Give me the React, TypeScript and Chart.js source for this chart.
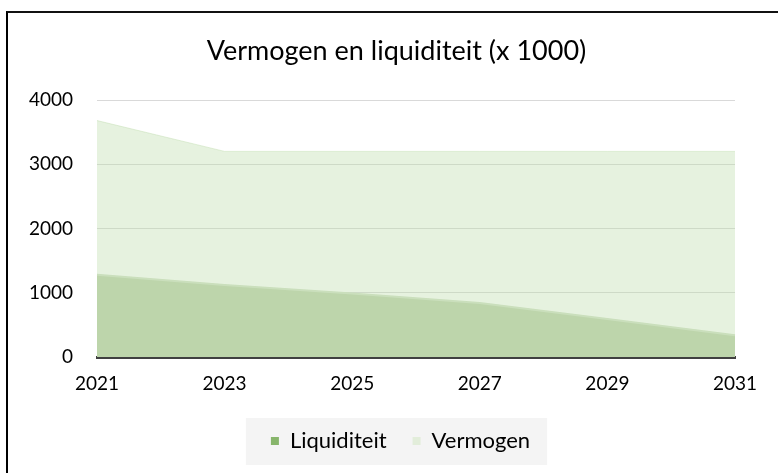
import React, { useEffect, useRef } from "react";
import { Chart, registerables } from "chart.js";

Chart.register(...registerables);

const years = ["2021", "2023", "2025", "2027", "2029", "2031"];
const liquiditeit = [1280, 1120, 990, 840, 590, 340];
const vermogen = [3680, 3200, 3200, 3200, 3200, 3200];
const seriesNames = ["Liquiditeit", "Vermogen"];
const legendColors = ["#87b56b", "#e2edda"];
const titleText = "Vermogen en liquiditeit (x 1000)";
const yMin = 0;
const yMax = 4000;
const yStep = 1000;

const FONT = "Lato, 'Open Sans', sans-serif";

export default function App() {
  const ref = useRef<HTMLCanvasElement | null>(null);

  useEffect(() => {
    if (!ref.current) return;

    const shiftBlocks = {
      id: "shiftBlocks",
      afterLayout(chart: any) {
        const t = chart.titleBlock;
        if (t) {
          t.left += 24;
          t.right += 24;
        }
        const l = chart.legend;
        if (l) {
          l.left += 28;
          l.right += 28;
        }
      },
    };

    const legendBg = {
      id: "legendBg",
      beforeDraw(chart: any) {
        const lg = chart.legend;
        const hb = lg && lg.legendHitBoxes;
        if (!hb || !hb.length) return;
        let minX = Infinity, maxX = -Infinity, minY = Infinity, maxY = -Infinity;
        hb.forEach((h: any) => {
          minX = Math.min(minX, h.left);
          maxX = Math.max(maxX, h.left + h.width);
          minY = Math.min(minY, h.top);
          maxY = Math.max(maxY, h.top + h.height);
        });
        const ctx = chart.ctx;
        const cy = (minY + maxY) / 2;
        ctx.save();
        ctx.fillStyle = "#f4f4f4";
        ctx.fillRect(minX - 25, cy - 23, (maxX - minX) + 42, 47);
        ctx.restore();
      },
    };

    const chart = new Chart(ref.current, {
      type: "line",
      data: {
        labels: years,
        datasets: [
          {
            label: seriesNames[0],
            data: liquiditeit,
            fill: "origin",
            backgroundColor: "#bdd5ab",
            borderColor: "#cadfbc",
            borderWidth: 2,
            pointRadius: 0,
            tension: 0,
            order: 0,
          },
          {
            label: seriesNames[1],
            data: vermogen,
            fill: "origin",
            backgroundColor: "rgba(190,220,172,0.38)",
            borderColor: "rgba(190,220,172,0.45)",
            borderWidth: 1,
            pointRadius: 0,
            tension: 0,
            order: 1,
          },
        ],
      },
      options: {
        responsive: false,
        animation: false,
        events: [],
        layout: { padding: { left: 10, right: 43, top: 0, bottom: 11 } },
        plugins: {
          tooltip: { enabled: false },
          title: {
            display: true,
            text: titleText,
            color: "#000",
            font: { family: FONT, size: 27, weight: "normal" },
            padding: { top: 35, bottom: 32.6 },
          },
          legend: {
            position: "bottom",
            labels: {
              color: "#000",
              font: { family: FONT, size: 22 },
              boxWidth: 8,
              boxHeight: 8,
              padding: 26,
              generateLabels: (chart: any) =>
                chart.data.datasets.map((ds: any, i: number) => ({
                  text: ds.label,
                  fillStyle: legendColors[i],
                  strokeStyle: legendColors[i],
                  lineWidth: 0,
                  hidden: false,
                  datasetIndex: i,
                  fontColor: "#000",
                })),
            },
          },
        },
        scales: {
          x: {
            type: "category",
            offset: false,
            afterFit: (s: any) => {
              s.height = 47;
            },
            grid: { display: false, drawTicks: false },
            border: { display: true, color: "#404040", width: 3 },
            ticks: {
              color: "#000",
              font: { family: FONT, size: 19 },
              padding: 15,
              maxRotation: 0,
              autoSkip: false,
            },
          },
          y: {
            min: yMin,
            max: yMax,
            afterFit: (s: any) => {
              s.width = 87;
            },
            grid: { color: "#d9d9d9", lineWidth: 1, drawTicks: false },
            border: { display: false },
            ticks: {
              stepSize: yStep,
              color: "#000",
              font: { family: FONT, size: 19 },
              padding: 24,
              callback: (v: any) => String(v),
            },
          },
        },
      },
      plugins: [shiftBlocks, legendBg],
    });

    return () => chart.destroy();
  }, []);

  return (
    <div
      style={{
        position: "fixed",
        left: 0,
        top: 0,
        width: 778,
        height: 473,
        background: "#fff",
        overflow: "hidden",
      }}
    >
      <canvas ref={ref} width={778} height={473} style={{ display: "block" }} />
      <div
        style={{
          position: "absolute",
          left: 6,
          top: 11,
          width: 800,
          height: 500,
          borderLeft: "2px solid #000",
          borderTop: "2px solid #111",
          pointerEvents: "none",
        }}
      />
    </div>
  );
}
